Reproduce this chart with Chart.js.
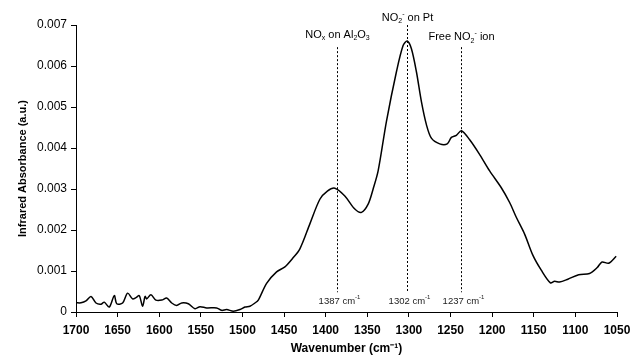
<!DOCTYPE html>
<html>
<head>
<meta charset="utf-8">
<script src="https://cdn.jsdelivr.net/npm/chart.js@4"></script>
<style>
  html, body { margin: 0; padding: 0; background: #fff; }
  #wrap { width: 632px; height: 356px; }
</style>
</head>
<body>
<div id="wrap"><canvas id="irChart"></canvas></div>
<script>
// spectrum
let wavenumber = [
  1700, 1694, 1688, 1682, 1676, 1670, 1666, 1660, 1654, 1651, 1644, 1638, 1632, 1628,
  1624, 1620, 1617, 1615, 1610, 1604, 1597, 1591, 1585, 1579, 1573, 1565, 1557, 1551,
  1543, 1531, 1525, 1519, 1511, 1503, 1497, 1491, 1485, 1481, 1471, 1459, 1449, 1440,
  1431, 1419, 1407, 1398, 1389, 1377, 1365, 1357, 1349, 1343, 1337, 1327, 1315, 1307,
  1302, 1297, 1291, 1285, 1279, 1273, 1263, 1254, 1249, 1243, 1237, 1227, 1215, 1203,
  1189, 1179, 1171, 1161, 1151, 1141, 1130, 1125, 1119, 1109, 1096, 1083, 1074, 1068,
  1060, 1051
];
let absorbance = [
  0.000225, 0.000225, 0.00027, 0.00038, 0.00022, 0.00019, 0.00024, 0.00012, 0.0004, 0.0002,
  0.00022, 0.00046, 0.00032, 0.00035, 0.0004, 0.00014, 0.00038, 0.00032, 0.00042, 0.00029,
  0.00029, 0.00034, 0.00022, 0.00016, 0.00022, 0.0002, 0.00008, 0.00013, 0.0001, 0.0001,
  0.00004, 0.00006, 0.00002, 0.00006, 0.00012, 0.00014, 0.00022, 0.00029, 0.0007, 0.00098,
  0.0011, 0.0013, 0.00154, 0.00215, 0.00275, 0.00295, 0.00302, 0.00283, 0.00251, 0.00243,
  0.00263, 0.003, 0.00344, 0.00465, 0.00586, 0.0065, 0.00661, 0.00642, 0.00586, 0.00513,
  0.00457, 0.00424, 0.0041, 0.0041, 0.00426, 0.00431, 0.00442, 0.0042, 0.00384, 0.00344,
  0.00303, 0.00267, 0.00231, 0.0019, 0.00138, 0.00102, 0.00071, 0.00075, 0.00073, 0.0008,
  0.00091, 0.00094, 0.00108, 0.00122, 0.00119, 0.00136
];
let xTicks = [1700, 1650, 1600, 1550, 1500, 1450, 1400, 1350, 1300, 1250, 1200, 1150, 1100, 1050];
let yTicks = [0, 0.001, 0.002, 0.003, 0.004, 0.005, 0.006, 0.007];

// marked bands
let peakPos = [1387, 1302, 1237];
let peakNames = [
  [["NO", "n"], ["x", "sub"], [" on Al", "n"], ["2", "sub"], ["O", "n"], ["3", "sub"]],
  [["NO", "n"], ["2", "sub"], ["-", "sup"], [" on Pt", "n"]],
  [["Free NO", "n"], ["2", "sub"], ["-", "sup"], [" ion", "n"]]
];

const FONT = "Arial, 'Liberation Sans', sans-serif";

function drawRich(ctx, parts, cx, cy, size, color) {
  const small = Math.round(size * 0.65);
  let w = 0;
  parts.forEach(p => {
    ctx.font = (p[1] === "n" ? size : small) + "px " + FONT;
    w += ctx.measureText(p[0]).width;
  });
  let x = cx - w / 2;
  ctx.fillStyle = color;
  ctx.textBaseline = "middle";
  ctx.textAlign = "left";
  parts.forEach(p => {
    let dy = 0;
    if (p[1] === "sub") dy = size * 0.3;
    if (p[1] === "sup") dy = -size * 0.4;
    ctx.font = (p[1] === "n" ? size : small) + "px " + FONT;
    ctx.fillText(p[0], x, cy + dy);
    x += ctx.measureText(p[0]).width;
  });
}

const bandMarks = {
  id: "bandMarks",
  afterDatasetsDraw(chart) {
    const ctx = chart.ctx;
    const xs = chart.scales.x, ys = chart.scales.y;
    const lineTop = [0.00646, 0.0070, 0.00646];
    const nameY = [0.00675, 0.00717, 0.0067];
    ctx.save();
    peakPos.forEach((p, i) => {
      const px = Math.round(xs.getPixelForValue(p)) + 0.5;
      ctx.beginPath();
      ctx.setLineDash([2, 2]);
      ctx.strokeStyle = "#000";
      ctx.lineWidth = 1;
      ctx.moveTo(px, ys.getPixelForValue(lineTop[i]));
      ctx.lineTo(px, ys.getPixelForValue(0.00048));
      ctx.stroke();
      ctx.setLineDash([]);
      drawRich(ctx, peakNames[i], px, ys.getPixelForValue(nameY[i]), 11, "#000");
      drawRich(ctx, [[p + " cm", "n"], ["-1", "sup"]], px + 2, ys.getPixelForValue(0.00026), 9.5, "#222");
    });
    ctx.restore();
  }
};

let points = wavenumber.map((w, i) => ({ x: w, y: absorbance[i] }));

new Chart(document.getElementById("irChart"), {
  type: "line",
  data: {
    datasets: [{
      data: points,
      borderColor: "#000",
      borderWidth: 1.5,
      pointRadius: 0,
      tension: 0.3,
      fill: false
    }]
  },
  options: {
    responsive: true,
    maintainAspectRatio: false,
    animation: false,
    layout: { padding: { top: 25, right: 15, left: 0, bottom: 0 } },
    plugins: { legend: { display: false }, tooltip: { enabled: false } },
    scales: {
      x: {
        type: "linear",
        reverse: true,
        min: 1050,
        max: 1700,
        afterBuildTicks: s => { s.ticks = xTicks.map(v => ({ value: v })); },
        afterFit: s => { s.height = 44; s.paddingLeft = 0; s.paddingRight = 0; },
        border: { display: true, color: "#000", width: 1 },
        grid: { drawOnChartArea: false, drawTicks: true, tickLength: 5, color: "#000" },
        ticks: {
          color: "#000",
          padding: 6,
          maxRotation: 0,
          font: { family: FONT, size: 12, weight: "bold" },
          callback: v => String(v)
        },
        title: {
          display: true,
          text: "Wavenumber (cm\u207B\u00B9)",
          color: "#000",
          padding: { top: 1, bottom: 0 },
          font: { family: FONT, size: 12, weight: "bold" }
        }
      },
      y: {
        min: 0,
        max: 0.007,
        afterBuildTicks: s => { s.ticks = yTicks.map(v => ({ value: v })); },
        afterFit: s => { s.width = 76; s.paddingTop = 0; s.paddingBottom = 0; },
        border: { display: true, color: "#000", width: 1 },
        grid: { drawOnChartArea: false, drawTicks: true, tickLength: 5, color: "#000" },
        ticks: {
          color: "#000",
          padding: 4,
          font: { family: FONT, size: 12 },
          callback: v => v === 0 ? "0" : v.toFixed(3)
        },
        title: {
          display: true,
          text: "Infrared Absorbance (a.u.)",
          color: "#000",
          padding: { top: 16, bottom: 0 },
          font: { family: FONT, size: 11, weight: "bold" }
        }
      }
    }
  },
  plugins: [bandMarks]
});
</script>
</body>
</html>
